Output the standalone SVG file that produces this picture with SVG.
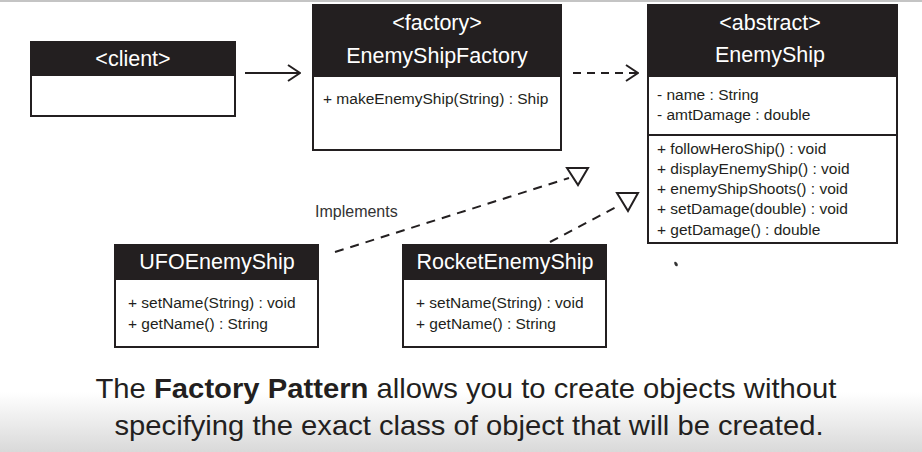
<svg xmlns="http://www.w3.org/2000/svg" width="922" height="452" viewBox="0 0 922 452">
<defs>
<linearGradient id="bg" x1="0" y1="0" x2="0" y2="1">
<stop offset="0" stop-color="#ffffff"/>
<stop offset="1" stop-color="#d9d9d9"/>
</linearGradient>
<marker id="chev" viewBox="0 0 14 18" refX="13" refY="9" markerWidth="14" markerHeight="18" markerUnits="userSpaceOnUse" orient="auto">
<path d="M1,1 L13,9 L1,17" fill="none" stroke="#231f20" stroke-width="2"/>
</marker>
</defs>
<style>
.box{fill:#ffffff;stroke:#231f20;stroke-width:2}
.hdr{fill:#231f20}
.sep{stroke:#231f20;stroke-width:2}
.title{font-family:"Liberation Sans",Arial,sans-serif;font-size:21.5px;fill:#ffffff;text-anchor:middle}
.mem{font-family:"Liberation Sans",Arial,sans-serif;font-size:15.5px;fill:#231f20}
.lbl{font-family:"Liberation Sans",Arial,sans-serif;font-size:16px;fill:#333333}
.cap{font-family:"Liberation Sans",Arial,sans-serif;font-size:28px;fill:#231f20;text-anchor:middle}
.dash{fill:none;stroke:#231f20;stroke-width:2;stroke-dasharray:9 7}
.tri{fill:#ffffff;stroke:#231f20;stroke-width:2;stroke-linejoin:miter}
</style>
<rect x="0" y="0" width="922" height="452" fill="#ffffff"/>
<rect x="0" y="392" width="922" height="60" fill="url(#bg)"/>
<line x1="0" y1="1" x2="922" y2="1" stroke="#c4c4c4" stroke-width="2"/>

<g id="client">
<rect class="box" x="31" y="42" width="204" height="74"/>
<rect class="hdr" x="31" y="42" width="204" height="34"/>
<text class="title" x="133" y="66">&lt;client&gt;</text>
</g>

<g id="factory">
<rect class="box" x="313" y="5" width="248" height="145"/>
<rect class="hdr" x="313" y="5" width="248" height="72"/>
<text class="title" x="437" y="30">&lt;factory&gt;</text>
<text class="title" x="437" y="63">EnemyShipFactory</text>
<text class="mem" x="323" y="104">+ makeEnemyShip(String) : Ship</text>
</g>

<g id="enemyship">
<rect class="box" x="648" y="5" width="249" height="238"/>
<rect class="hdr" x="648" y="5" width="249" height="72"/>
<line class="sep" x1="648" y1="135" x2="897" y2="135"/>
<text class="title" x="770" y="30">&lt;abstract&gt;</text>
<text class="title" x="770" y="62">EnemyShip</text>
<text class="mem" x="657" y="100">- name : String</text>
<text class="mem" x="657" y="120">- amtDamage : double</text>
<text class="mem" x="657" y="154">+ followHeroShip() : void</text>
<text class="mem" x="657" y="174">+ displayEnemyShip() : void</text>
<text class="mem" x="657" y="194">+ enemyShipShoots() : void</text>
<text class="mem" x="657" y="214">+ setDamage(double) : void</text>
<text class="mem" x="657" y="235">+ getDamage() : double</text>
</g>

<g id="ufo">
<rect class="box" x="115" y="245" width="203" height="102"/>
<rect class="hdr" x="115" y="245" width="203" height="35"/>
<text class="title" x="217" y="269">UFOEnemyShip</text>
<text class="mem" x="128" y="308">+ setName(String) : void</text>
<text class="mem" x="128" y="329">+ getName() : String</text>
</g>

<g id="rocket">
<rect class="box" x="403" y="245" width="203" height="102"/>
<rect class="hdr" x="403" y="245" width="203" height="35"/>
<text class="title" x="505" y="269">RocketEnemyShip</text>
<text class="mem" x="416" y="308">+ setName(String) : void</text>
<text class="mem" x="416" y="329">+ getName() : String</text>
</g>

<g id="connectors">
<line x1="245" y1="73" x2="300" y2="73" stroke="#231f20" stroke-width="2" marker-end="url(#chev)"/>
<line x1="573" y1="73" x2="638" y2="73" stroke="#231f20" stroke-width="2" stroke-dasharray="8 6" marker-end="url(#chev)"/>
<line class="dash" x1="335" y1="252" x2="569" y2="178"/>
<polygon class="tri" points="567,168 588,168 578,185"/>
<line class="dash" x1="550" y1="242" x2="618" y2="206"/>
<polygon class="tri" points="617,193 638,193 628,211"/>
<text class="lbl" x="315" y="217">Implements</text>
</g>

<ellipse cx="676" cy="264" rx="1.5" ry="2.5" fill="#333333" transform="rotate(-30 676 264)"/>

<g id="caption">
<text class="cap" x="466" y="398" textLength="741" lengthAdjust="spacingAndGlyphs">The <tspan font-weight="bold">Factory Pattern</tspan> allows you to create objects without</text>
<text class="cap" x="469" y="435" textLength="709" lengthAdjust="spacingAndGlyphs">specifying the exact class of object that will be created.</text>
</g>
</svg>
